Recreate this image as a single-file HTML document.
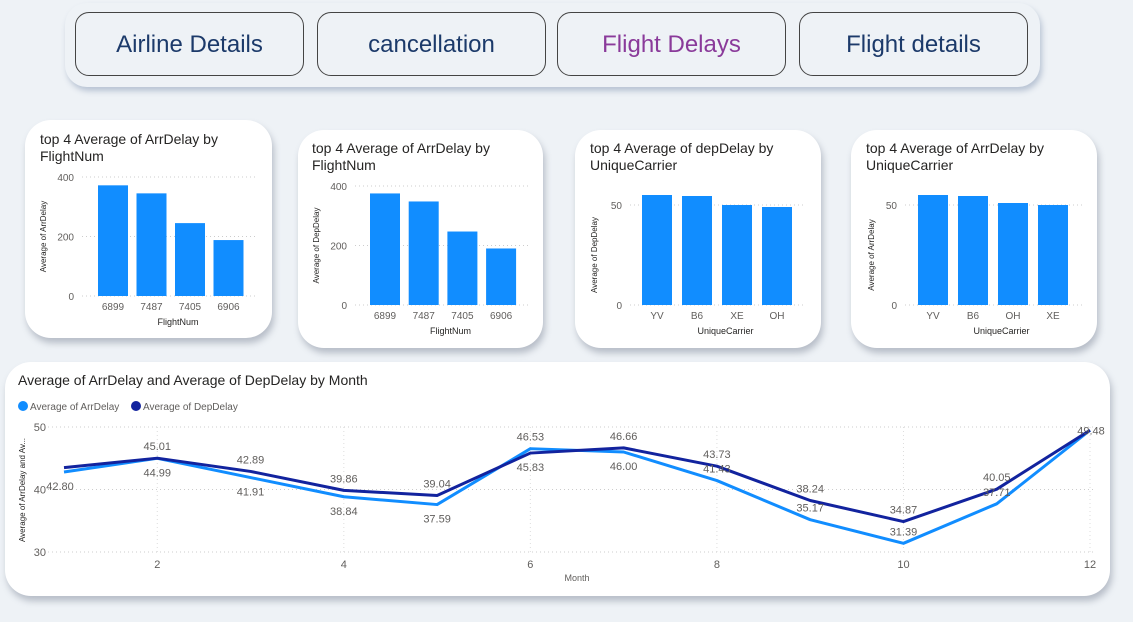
<!DOCTYPE html>
<html><head><meta charset="utf-8">
<style>
html,body{margin:0;padding:0;width:1133px;height:622px;background:#eef2f6;overflow:hidden;font-family:"Liberation Sans",sans-serif;}
.nav{position:absolute;left:65px;top:3px;width:975px;height:84px;background:#eef2f6;border-radius:22px;box-shadow:2px 4px 6px rgba(120,140,170,.45);}
.btn{position:absolute;top:9px;height:64px;width:229px;border:1px solid #444;border-radius:14px;background:#eef2f6;font-size:24px;color:#1c3a6a;text-align:center;line-height:64px;box-sizing:border-box;}
.card{position:absolute;background:#fff;border-radius:26px;box-shadow:2px 5px 7px rgba(100,110,130,.4);}
svg{position:absolute;left:0;top:0;}
</style></head><body>
<div class="nav">
  <div class="btn" style="left:10px">Airline Details</div>
  <div class="btn" style="left:252px">cancellation</div>
  <div class="btn" style="left:492px;color:#8a3a9a">Flight Delays</div>
  <div class="btn" style="left:734px">Flight details</div>
</div>
<div class="card" style="left:25px;top:120px;width:247px;height:218px"></div>
<div class="card" style="left:298px;top:130px;width:245px;height:218px"></div>
<div class="card" style="left:575px;top:130px;width:246px;height:218px"></div>
<div class="card" style="left:851px;top:130px;width:246px;height:218px"></div>
<div class="card" style="left:5px;top:362px;width:1105px;height:234px"></div>
<svg id="s" width="1133" height="622"></svg>
<script>
const c1Cats=["6899","7487","7405","6906"];
const c1Vals=[372,345,245,188];
const c2Cats=["6899","7487","7405","6906"];
const c2Vals=[375,348,247,190];
const c3Cats=["YV","B6","XE","OH"];
const c3Vals=[55,54.5,50,49];
const c4Cats=["YV","B6","OH","XE"];
const c4Vals=[55,54.5,51,50];
const months=[1,2,3,4,5,6,7,8,9,10,11,12];
const arrDelay=[42.80,44.99,41.91,38.84,37.59,46.53,46.00,41.43,35.17,31.39,37.71,49.48];
const depDelay=[43.50,45.01,42.89,39.86,39.04,45.83,46.66,43.73,38.24,34.87,40.05,49.48];
const lineTicks=[30,40,50];
const monthTicks=[2,4,6,8,10,12];

const S=document.getElementById('s');const NS='http://www.w3.org/2000/svg';
function el(t,a,txt){const e=document.createElementNS(NS,t);for(const k in a)e.setAttribute(k,a[k]);if(txt!=null)e.textContent=txt;S.appendChild(e);return e;}
function txt(x,y,s,size,fill,anchor,extra){const e=el('text',Object.assign({x:x,y:y,'font-size':size,fill:fill,'text-anchor':anchor||'start','font-family':'Liberation Sans, sans-serif'},extra||{}),s);return e;}

function bar(cfg){
  const {title,x0,cats,vals,max,ticks,yTop,yBot,gx0,gx1,barX,ylab,xlab,name}=cfg;
  const y=v=>yBot-(v/max)*(yBot-yTop);
  title.forEach((t,i)=>{const e=txt(cfg.tx,cfg.ty+i*17,t,14,'#252423');});
  ticks.forEach(t=>{
    const g=el('line',{x1:gx0,x2:gx1,y1:y(t),y2:y(t),stroke:'#ccc','stroke-dasharray':'1,3'});
    
    const l=txt(gx0-8,y(t)+4,String(t),10,'#605e5c','end');
    
  });
  cats.forEach((c,i)=>{
    const bx=barX+i*cfg.step;
    const r=el('rect',{x:bx,y:y(vals[i]),width:30,height:yBot-y(vals[i]),fill:'#118dff'});
    
    const l=txt(bx+15,yBot+14,c,10,'#605e5c','middle');
    
  });
  const yl=txt(0,0,ylab,8,'#252423','middle',{transform:`translate(${cfg.ylx},${(yTop+yBot)/2}) rotate(-90)`});
  
  const xl=txt((gx0+gx1)/2+8,yBot+29,xlab,9,'#252423','middle');
  
}
bar({name:'chart1',title:['top 4 Average of ArrDelay by','FlightNum'],tx:40,ty:144,cats:c1Cats,vals:c1Vals,max:400,ticks:[0,200,400],yTop:177,yBot:296,gx0:82,gx1:258,barX:98,step:38.5,ylab:'Average of ArrDelay',xlab:'FlightNum',ylx:46});
bar({name:'chart2',title:['top 4 Average of ArrDelay by','FlightNum'],tx:312,ty:153,cats:c2Cats,vals:c2Vals,max:400,ticks:[0,200,400],yTop:186,yBot:305,gx0:355,gx1:530,barX:370,step:38.7,ylab:'Average of DepDelay',xlab:'FlightNum',ylx:319});
bar({name:'chart3',title:['top 4 Average of depDelay by','UniqueCarrier'],tx:590,ty:153,cats:c3Cats,vals:c3Vals,max:50,ticks:[0,50],yTop:205,yBot:305,gx0:630,gx1:805,barX:642,step:40,ylab:'Average of DepDelay',xlab:'UniqueCarrier',ylx:597});
bar({name:'chart4',title:['top 4 Average of ArrDelay by','UniqueCarrier'],tx:866,ty:153,cats:c4Cats,vals:c4Vals,max:50,ticks:[0,50],yTop:205,yBot:305,gx0:905,gx1:1082,barX:918,step:40,ylab:'Average of ArrDelay',xlab:'UniqueCarrier',ylx:874});

// line chart
const lx=m=>64+(m-1)*(1090-64)/11;
const ly=v=>552-(v-30)*(552-427)/20;
let t=txt(18,385,'Average of ArrDelay and Average of DepDelay by Month',14,'#252423');

[['#118dff','Average of ArrDelay',18],['#12239e','Average of DepDelay',131]].forEach(([c,n,x])=>{
  const d=el('circle',{cx:x+5,cy:406,r:5,fill:c});
  const l=txt(x+12,410,n,10,'#605e5c');
});
lineTicks.forEach(v=>{
  const g=el('line',{x1:48,x2:1096,y1:ly(v),y2:ly(v),stroke:'#ccc','stroke-dasharray':'1,3'});
  
  const l=txt(46,ly(v)+4,String(v),11,'#605e5c','end');
});
monthTicks.forEach(m=>{
  const g=el('line',{x1:lx(m),x2:lx(m),y1:427,y2:552,stroke:'#ddd','stroke-dasharray':'1,3'});
  
  const l=txt(lx(m),568,String(m),11,'#605e5c','middle');
});
let yt=txt(0,0,'Average of ArrDelay and Av...',8,'#252423','middle',{transform:'translate(25,490) rotate(-90)'});

let xt=txt(577,581,'Month',9,'#605e5c','middle');
[[arrDelay,'#118dff','arrdelay-line'],[depDelay,'#12239e','depdelay-line']].forEach(([d,c,n])=>{
  const p=el('polyline',{points:months.map((m,i)=>lx(m)+','+ly(d[i])).join(' '),fill:'none',stroke:c,'stroke-width':3,'stroke-linejoin':'round'});
  
});
months.forEach((m,i)=>{
  const a=arrDelay[i],d=depDelay[i];
  const hi=Math.max(a,d),lo=Math.min(a,d);
  if(m===1){const l=txt(lx(m)-4,ly(a)+18,a.toFixed(2),11,'#605e5c','middle');return;}
  if(m===12){const l=txt(lx(m)+1,ly(a)+4,a.toFixed(2),11,'#605e5c','middle');return;}
  const l1=txt(lx(m),ly(hi)-8,hi.toFixed(2),11,'#605e5c','middle');
  
  const l2=txt(lx(m),ly(lo)+ (hi-lo<1.5?18:-8),lo.toFixed(2),11,'#605e5c','middle');
  
});
</script>
</body></html>
